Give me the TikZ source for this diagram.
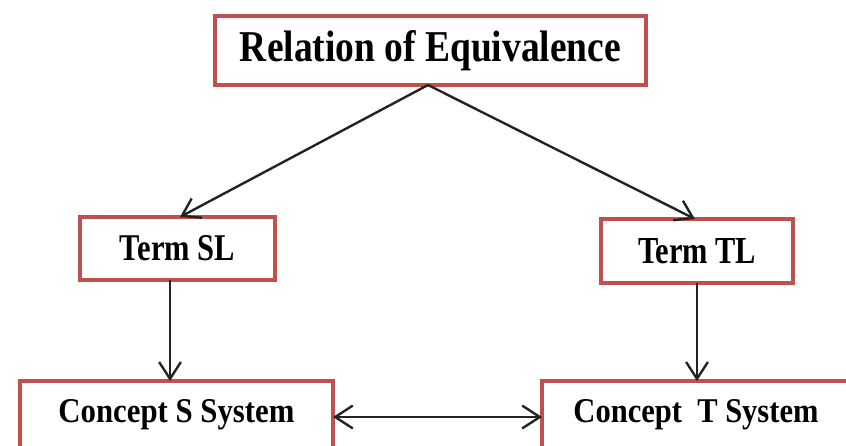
\documentclass[tikz,border=0pt]{standalone}
\usepackage{fontspec}
\setmainfont{Liberation Serif}
\usetikzlibrary{arrows.meta}
\definecolor{boxred}{RGB}{192,80,77}
\definecolor{arrowgray}{RGB}{35,35,35}
\tikzset{
  box/.style={draw=boxred, line width=4pt, fill=white, inner sep=0pt, outer sep=0pt, rectangle},
  arr/.style={draw=arrowgray, line width=2.4pt, -{Straight Barb[angle=66:20pt, line width=2.4pt]}},
  darr/.style={draw=arrowgray, line width=2.8pt, {Straight Barb[angle=66:21pt, line width=2.4pt]}-{Straight Barb[angle=66:21pt, line width=2.4pt]}}
}
\begin{document}
\begin{tikzpicture}[x=1pt,y=-1pt]
\useasboundingbox (0,0) rectangle (846,445);
\begin{scope}
\clip (0,0) rectangle (846,445);
\node[box, minimum width=431pt, minimum height=69pt] (top) at (430.5,50.5)
  {\resizebox{381pt}{31pt}{\textbf{Relation of Equivalence}}};
\node[box, minimum width=195pt, minimum height=63pt] (tsl) at (177.5,248.5)
  {\resizebox{115pt}{25pt}{\textbf{Term SL}}};
\node[box, minimum width=192pt, minimum height=64pt] (ttl) at (697,251)
  {\resizebox{118pt}{25pt}{\textbf{Term TL}}};
\node[box, minimum width=313pt, minimum height=68pt] (cs) at (176.5,415)
  {\resizebox{236pt}{23pt}{\textbf{Concept S System}}};
\node[box, minimum width=308pt, minimum height=68pt] (ct) at (696,415)
  {\resizebox{245pt}{23pt}{\textbf{Concept\enspace T System}}};
\end{scope}
\draw[arr] ([xshift=-2.5pt]top.south) -- ([xshift=2.5pt]tsl.north);
\draw[arr] ([xshift=-2.5pt]top.south) -- ([xshift=-2pt]ttl.north);
\draw[arr] ([xshift=-7.5pt]tsl.south) -- ([xshift=-6.5pt]cs.north);
\draw[arr] (ttl.south) -- (ttl.south |- ct.north);
\draw[darr] ([yshift=-2pt]cs.east) -- ([yshift=-2pt]cs.east -| ct.west);
\end{tikzpicture}
\end{document}
